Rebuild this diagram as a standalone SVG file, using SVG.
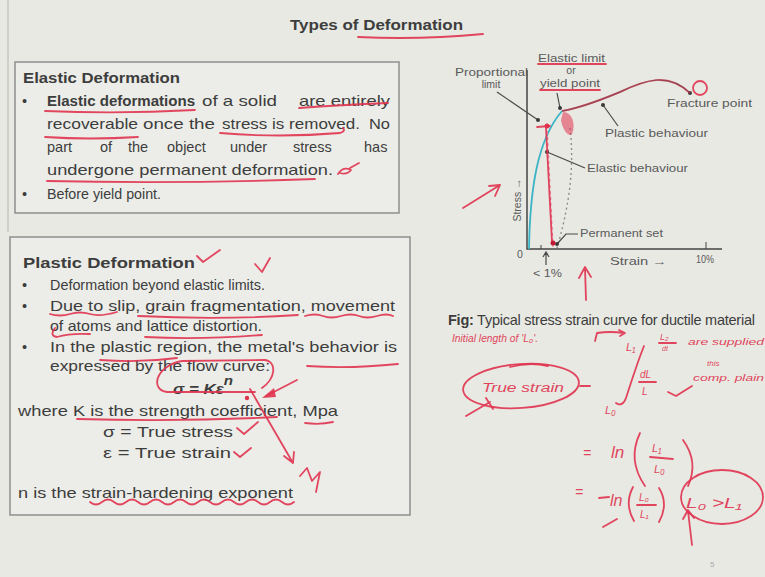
<svg xmlns="http://www.w3.org/2000/svg" width="765" height="577" viewBox="0 0 765 577">
<defs>
<style>
.t{font-family:"Liberation Sans",Arial,sans-serif;fill:#3d3d3d;font-size:14.5px}
.b{font-weight:bold}
.g{font-family:"Liberation Sans",Arial,sans-serif;fill:#5a5a5a;font-size:10.5px}
.box{fill:#ecede8;stroke:#8e8e8e;stroke-width:1.5}
.ink{fill:none;stroke:#e0334f;stroke-width:1.8;stroke-linecap:round;stroke-linejoin:round;opacity:0.9}
.hw{font-family:"Liberation Sans",Arial,sans-serif;font-style:italic;fill:#e0334f;opacity:0.9}
.ld{fill:none;stroke:#4a4a4a;stroke-width:1.2}
.dot{fill:#3a3a3a}
</style>
</defs>
<rect width="765" height="577" fill="#e8e9e3"/>
<line x1="8" y1="0" x2="8" y2="232" stroke="#b5b5b0" stroke-width="1"/>

<g id="title">
<text class="t b" x="290" y="30" font-size="16.5" textLength="173" lengthAdjust="spacingAndGlyphs">Types of Deformation</text>
<path class="ink" d="M358,37 Q420,40 483,34"/>
</g>

<g id="elastic">
<rect class="box" x="15" y="62" width="384" height="151"/>
<text class="t b" x="23" y="83" font-size="16" textLength="157" lengthAdjust="spacingAndGlyphs">Elastic Deformation</text>
<text class="t" x="22" y="106">•</text>
<text class="t" y="106"><tspan class="b" x="47" textLength="148" lengthAdjust="spacingAndGlyphs">Elastic deformations</tspan></text>
<text class="t" x="202" y="106" textLength="75" lengthAdjust="spacingAndGlyphs">of a solid</text>
<text class="t" x="299" y="106" textLength="91" lengthAdjust="spacingAndGlyphs">are entirely</text>
<text class="t" x="47" y="129" textLength="91" lengthAdjust="spacingAndGlyphs">recoverable</text>
<text class="t" x="143" y="129" textLength="72" lengthAdjust="spacingAndGlyphs">once the</text>
<text class="t" x="222" y="129" textLength="138" lengthAdjust="spacingAndGlyphs">stress is removed.</text>
<text class="t" x="369" y="129" textLength="21" lengthAdjust="spacingAndGlyphs">No</text>
<text class="t" y="152"><tspan x="47">part</tspan><tspan x="100">of</tspan><tspan x="128">the</tspan><tspan x="167">object</tspan><tspan x="230">under</tspan><tspan x="293">stress</tspan><tspan x="364">has</tspan></text>
<text class="t" x="47" y="175" textLength="286" lengthAdjust="spacingAndGlyphs">undergone permanent deformation.</text>
<text class="t" x="22" y="199">•</text>
<text class="t" x="47" y="199" textLength="114" lengthAdjust="spacingAndGlyphs">Before yield point.</text>
</g>

<g id="plastic">
<rect class="box" x="10" y="237" width="400" height="278"/>
<text class="t b" x="23" y="268" font-size="17.5" textLength="172" lengthAdjust="spacingAndGlyphs">Plastic Deformation</text>
<text class="t" x="22" y="290">•</text>
<text class="t" x="50" y="290" textLength="215" lengthAdjust="spacingAndGlyphs">Deformation beyond elastic limits.</text>
<text class="t" x="22" y="311">•</text>
<text class="t" x="50" y="311" textLength="345" lengthAdjust="spacingAndGlyphs">Due to slip, grain fragmentation, movement</text>
<text class="t" x="50" y="331" textLength="212" lengthAdjust="spacingAndGlyphs">of atoms and lattice distortion.</text>
<text class="t" x="22" y="352">•</text>
<text class="t" x="50" y="352" textLength="347" lengthAdjust="spacingAndGlyphs">In the plastic region, the metal's behavior is</text>
<text class="t" x="50" y="371" textLength="220" lengthAdjust="spacingAndGlyphs">expressed by the flow curve:</text>
<text class="t b" x="173" y="394" font-family="Liberation Serif,serif" font-style="italic" font-size="21" textLength="60" lengthAdjust="spacingAndGlyphs">σ = Kε<tspan font-size="13" dy="-9">n</tspan></text>
<text class="t" x="18" y="416" textLength="320" lengthAdjust="spacingAndGlyphs">where K is the strength coefficient, Mpa</text>
<text class="t" x="103" y="437" textLength="130" lengthAdjust="spacingAndGlyphs">σ = True stress</text>
<text class="t" x="103" y="458" textLength="128" lengthAdjust="spacingAndGlyphs">ε = True strain</text>
<text class="t" x="18" y="498" textLength="275" lengthAdjust="spacingAndGlyphs">n is the strain-hardening exponent</text>
</g>

<g id="graph">
<path d="M527,70 L527,249 L722,249" fill="none" stroke="#444" stroke-width="1.5"/>
<path d="M706,242 L706,249 M541,245 L541,249" stroke="#444" stroke-width="1"/>
<path d="M529,249 C530,190 537,140 562,111" fill="none" stroke="#3bb5c6" stroke-width="1.8"/>
<path d="M562,111 C580,108 596,102 620,92 C645,80 668,72 690,93" fill="none" stroke="#555" stroke-width="1.4"/>
<path d="M547,125 L553,247" fill="none" stroke="#e58aa0" stroke-width="1.3" stroke-dasharray="3,3"/>
<path d="M570,128 C575,170 568,210 557,248" fill="none" stroke="#888" stroke-width="1.3" stroke-dasharray="2,3"/>
<circle class="dot" cx="690" cy="93" r="2"/>
<text class="g" x="455" y="76" textLength="73" lengthAdjust="spacingAndGlyphs">Proportional</text>
<text class="g" x="491" y="88" text-anchor="middle">limit</text>
<text class="g" x="538" y="62" textLength="67" lengthAdjust="spacingAndGlyphs">Elastic limit</text>
<text class="g" x="571" y="74" text-anchor="middle">or</text>
<text class="g" x="540" y="87" textLength="60" lengthAdjust="spacingAndGlyphs">yield point</text>
<text class="g" x="667" y="107" textLength="85" lengthAdjust="spacingAndGlyphs">Fracture point</text>
<text class="g" x="605" y="137" textLength="103" lengthAdjust="spacingAndGlyphs">Plastic behaviour</text>
<text class="g" x="587" y="172" textLength="101" lengthAdjust="spacingAndGlyphs">Elastic behaviour</text>
<text class="g" x="580" y="237" textLength="83" lengthAdjust="spacingAndGlyphs">Permanent set</text>
<text class="g" x="517" y="258">0</text>
<text class="g" x="610" y="265" textLength="57" lengthAdjust="spacingAndGlyphs">Strain →</text>
<text class="g" x="696" y="263" textLength="18" lengthAdjust="spacingAndGlyphs">10%</text>
<text class="g" x="533" y="277" textLength="29" lengthAdjust="spacingAndGlyphs">&lt; 1%</text>
<text class="g" transform="translate(521,200) rotate(-90)" text-anchor="middle">Stress →</text>
</g>

<g id="caption">
<text class="t" x="448" y="325" font-size="11" textLength="307" lengthAdjust="spacing"><tspan class="b">Fig:</tspan> Typical stress strain curve for ductile material</text>
</g>

<g id="connectors">
<path class="ld" d="M497,92 L538,120"/><circle class="dot" cx="538" cy="120" r="2"/>
<path class="ld" d="M557,93 L560,108"/><circle class="dot" cx="560" cy="108" r="2"/>
<path class="ld" d="M618,126 L603,105"/><circle class="dot" cx="603" cy="105" r="2"/>
<path class="ld" d="M585,168 L547,152"/><circle class="dot" cx="547" cy="152" r="2"/>
<path class="ld" d="M578,234 L566,234 L557,244"/><circle class="dot" cx="557" cy="244" r="2"/>
<path class="ld" d="M546,265 L546,253 M543,257 L546,252 L549,257"/>
</g>

<g id="annotations">
<path class="ink" d="M45,111 Q120,114 195,110 M45,137 Q90,140 138,137 M299,108 Q340,105 388,103 M220,133 Q280,138 340,133 Q346,131 343,128 M47,181 Q180,184 315,179"/>
<path class="ink" d="M338,174 Q343,166 351,170 Q347,175 340,173 M350,168 L359,163"/>
<path class="ink" d="M197,256 L203,262 L220,250 M255,264 L262,272 L270,258"/>
<path class="ink" d="M50,314 Q60,317 70,314 T90,314 T117,312 M138,316 Q220,320 298,315 M305,316 q10,-3 18,0 t18,0 t18,0 t18,0 t16,0 M55,328 q-6,8 2,9 Q70,333 90,334 M145,337 Q200,340 262,335 M100,360 Q140,363 177,358 M307,366 Q350,369 398,364"/>
<path class="ink" d="M255,392 L167,392 C150,390 155,366 182,361 L265,360 C277,362 276,378 262,388"/>
<path class="ink" d="M297,380 L266,396"/>
<path d="M262,398 L274,388 L276,397 Z" fill="#e0334f" opacity="0.9"/>
<path class="ink" d="M250,389 L293,463 M284,456 L293,463 L294,452 M300,476 L307,468 L312,481 L320,472 L316,492"/>
<circle cx="247" cy="398" r="2.2" fill="#e0334f"/>
<path class="ink" d="M77,419 Q180,422 277,417 M305,423 Q320,425 333,422"/>
<path class="ink" d="M237,428 L244,434 L258,422 M234,452 L240,457 L251,448"/>
<path class="ink" d="M90,502 q6,5 12,0 t12,0 t12,0 t12,0 t12,0 t12,0 t12,0 t12,0 t12,0 t12,0 t12,0 t12,0 t12,0 t12,0 t12,0 t12,0 t12,0"/>

<path class="ink" d="M538,64 L606,64 M540,90 L600,90"/>
<path d="M562,111 C580,108 596,102 620,92 C645,80 668,72 690,93" fill="none" stroke="#e0334f" stroke-width="2" opacity="0.55"/>
<circle class="ink" cx="700" cy="88" r="7"/>
<path d="M563,112 C572,112 576,124 572,134 C568,138 562,128 561,120 Z" fill="#e0334f" opacity="0.55"/>
<circle cx="547" cy="126" r="2.5" fill="#e0334f"/>
<path class="ink" d="M537,127 L550,126 M546,128 L552,242"/>
<circle cx="553" cy="243" r="2.5" fill="#c01a35"/>
<path class="ink" d="M463,208 L500,185 M489,186 L500,185 L495,196 M586,300 L585,268 M579,278 L585,267 L591,277"/>

<text class="hw" x="452" y="342" font-size="10" textLength="86" lengthAdjust="spacingAndGlyphs">Initial length of 'L₀'.</text>
<path class="ink" d="M595,341 L597,333 Q610,331 624,333 M619,330 L625,333 L620,336"/>
<text class="hw" x="626" y="351" font-size="11">L₁</text>
<text class="hw" x="660" y="340" font-size="9">L₂</text>
<path class="ink" d="M659,343 L676,343"/>
<text class="hw" x="662" y="351" font-size="7">dt</text>
<text class="hw" x="688" y="345" font-size="9.5" textLength="76" lengthAdjust="spacingAndGlyphs">are supplied</text>
<text class="hw" x="707" y="366" font-size="8">this</text>
<text class="hw" x="693" y="381" font-size="9.5" textLength="71" lengthAdjust="spacingAndGlyphs">comp. plain</text>
<path class="ink" d="M644,346 C636,366 630,386 626,398 C624,404 620,406 616,403"/>
<text class="hw" x="605" y="414" font-size="11">L₀</text>
<text class="hw" x="640" y="378" font-size="10">dL</text>
<path class="ink" d="M639,382 L656,382"/>
<text class="hw" x="642" y="395" font-size="10">L</text>
<path class="ink" d="M668,392 L676,396 L692,386"/>
<ellipse class="ink" cx="521" cy="386" rx="58" ry="22" transform="rotate(-4 521 386)"/>
<text class="hw" x="482" y="392" font-size="12.5" textLength="82" lengthAdjust="spacingAndGlyphs">True strain</text>
<path class="ink" d="M510,367 Q530,362 548,366 M580,386 L590,386 M466,416 L490,402 M486,398 L493,409"/>

<text class="hw" x="583" y="458" font-size="14">=</text>
<text class="hw" x="611" y="458" font-size="17">ln</text>
<path class="ink" d="M640,433 Q627,460 645,486 M683,440 Q699,462 688,486 M650,457 L673,459"/>
<text class="hw" x="652" y="452" font-size="11">L₁</text>
<text class="hw" x="654" y="473" font-size="11">L₀</text>
<text class="hw" x="575" y="497" font-size="14">=</text>
<path class="ink" d="M599,498 L609,497"/>
<text class="hw" x="610" y="506" font-size="16">ln</text>
<path class="ink" d="M633,487 Q624,504 634,521 M659,488 Q669,504 659,522 M637,505 L656,505 M603,527 L617,519"/>
<text class="hw" x="639" y="501" font-size="10">L₀</text>
<text class="hw" x="640" y="518" font-size="10">L₁</text>
<ellipse class="ink" cx="722" cy="497" rx="41" ry="27"/>
<text class="hw" x="686" y="508" font-size="14" textLength="56" lengthAdjust="spacingAndGlyphs">L₀ &gt;L₁</text>
<path class="ink" d="M692,545 L688,511 M683,519 L688,510 L694,518"/>
</g>
<text x="710" y="567" font-family="Liberation Sans,sans-serif" font-size="8" fill="#aaa">5</text>
</svg>
